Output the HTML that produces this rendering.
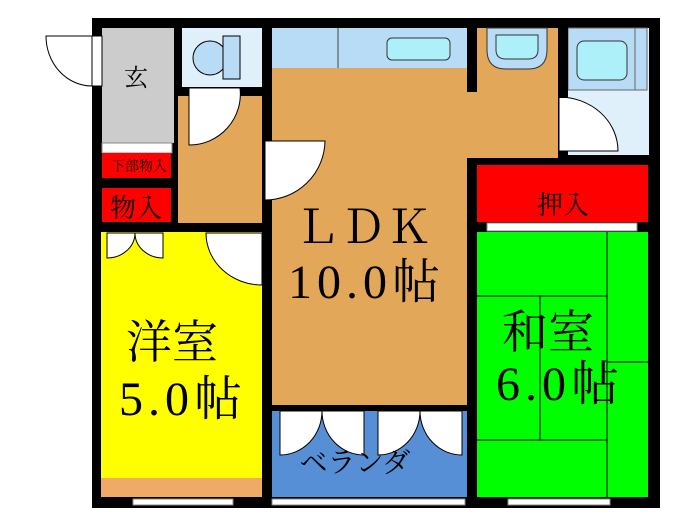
<!DOCTYPE html>
<html><head><meta charset="utf-8"><style>html,body{margin:0;padding:0;background:#fff}svg{display:block}text{font-family:"Liberation Serif","Noto Serif CJK JP","Noto Serif CJK SC",serif;fill:#000}</style></head><body>
<svg width="700" height="525" viewBox="0 0 700 525" xmlns="http://www.w3.org/2000/svg">
<rect x="92" y="18" width="568" height="490" fill="#000"/>
<rect x="102" y="28" width="72" height="115" fill="#cccccc"/>
<rect x="102" y="143" width="70" height="10" fill="#fff" stroke="#888" stroke-width="1"/>
<rect x="102" y="153" width="69" height="25" fill="#ff0000"/>
<rect x="102" y="188" width="69" height="34" fill="#ff0000"/>
<rect x="182" y="28" width="80" height="59" fill="#dff0fb"/>
<ellipse cx="210" cy="58" rx="17" ry="17" fill="#b8dcf5" stroke="#000"/>
<rect x="223" y="36" width="17" height="43" fill="#b8dcf5" stroke="#000"/>
<rect x="178" y="96" width="84" height="127" fill="#e3a75a"/>
<path d="M189 88 H240 A51 51 0 0 1 189 145 Z" fill="#fff" stroke="#000"/>
<rect x="272" y="28" width="286" height="130" fill="#e3a75a"/>
<rect x="272" y="28" width="195" height="377" fill="#e3a75a"/>
<rect x="272" y="28" width="195" height="40" fill="#b8dcf5"/>
<line x1="338" y1="28" x2="338" y2="68" stroke="#444"/>
<rect x="387" y="38" width="63" height="22" rx="5" fill="#aef0fa" stroke="#333"/>
<rect x="467" y="18" width="10" height="74" fill="#000"/>
<path d="M487 28 H547 V50 Q547 69 528 69 H506 Q487 69 487 50 Z" fill="#b8dcf5" stroke="#333"/>
<path d="M496 35 H538 V50 Q538 59 528 59 H506 Q496 59 496 50 Z" fill="#aef0fa" stroke="#333"/>
<path d="M265 141 H325 A60 60 0 0 1 265 200 Z" fill="#fff" stroke="#000"/>
<rect x="568" y="28" width="81" height="127" fill="#dff0fb"/>
<rect x="568" y="28" width="79" height="62" fill="#b8dcf5" stroke="#666"/>
<line x1="635" y1="28" x2="635" y2="90" stroke="#666"/>
<rect x="577" y="41" width="50" height="39" rx="7" fill="#aef0fa" stroke="#333"/>
<path d="M559 97 V151 H618 A59 54 0 0 0 559 97 Z" fill="#fff" stroke="#000"/>
<rect x="558" y="18" width="10" height="80" fill="#000"/>
<rect x="477" y="165" width="171" height="57" fill="#ff0000"/>
<rect x="487" y="223" width="150" height="8" fill="#fff" stroke="#888"/>
<rect x="101" y="232" width="161" height="265" fill="#ffff00"/>
<rect x="101" y="478" width="161" height="19" fill="#eeaa66"/>
<path d="M107 233 V258 A28 25 0 0 0 135 233 Z" fill="#fff" stroke="#000"/>
<path d="M163 233 V258 A28 25 0 0 1 135 233 Z" fill="#fff" stroke="#000"/>
<path d="M206 233 H262 V285 A56 52 0 0 1 206 233 Z" fill="#fff" stroke="#000"/>
<rect x="272" y="405" width="195" height="92" fill="#578fd6"/>
<rect x="272" y="405" width="195" height="6" fill="#000"/>
<path d="M280 411 V455 A42 44 0 0 0 322 411 Z" fill="#fff" stroke="#000"/>
<path d="M364 411 V455 A42 44 0 0 1 322 411 Z" fill="#fff" stroke="#000"/>
<path d="M378 411 V455 A42 44 0 0 0 420 411 Z" fill="#fff" stroke="#000"/>
<path d="M462 411 V455 A42 44 0 0 1 420 411 Z" fill="#fff" stroke="#000"/>
<rect x="477" y="232" width="171" height="265" fill="#00ff00"/>
<g stroke="#000" stroke-width="1" fill="none">
<line x1="607" y1="232" x2="607" y2="497"/>
<line x1="477" y1="296" x2="607" y2="296"/>
<line x1="540" y1="296" x2="540" y2="440"/>
<line x1="477" y1="440" x2="607" y2="440"/>
<line x1="607" y1="362" x2="648" y2="362"/>
</g>
<path d="M92 36 V86 A46 50 0 0 1 46 36 Z" fill="#fff" stroke="#000"/>
<rect x="92" y="36" width="10" height="50" fill="#fff" stroke="#000"/>
<rect x="133" y="499" width="100" height="6" fill="#fff" stroke="#888"/>
<rect x="272" y="499" width="193" height="6" fill="#fff" stroke="#888"/>
<rect x="508" y="499" width="102" height="6" fill="#fff" stroke="#888"/>
<text x="136" y="86" font-size="24" text-anchor="middle">玄</text>
<text x="139" y="171" font-size="14" text-anchor="middle">下部物入</text>
<text x="136" y="217" font-size="26" text-anchor="middle">物入</text>
<text x="563" y="214" font-size="26" text-anchor="middle">押入</text>
<text x="363" y="243" font-size="46" text-anchor="middle">ＬＤＫ</text>
<text x="288" y="298" font-size="48" letter-spacing="5">10.0帖</text>
<text x="119" y="415" font-size="48" letter-spacing="5">5.0帖</text>
<text x="172" y="358" font-size="46" text-anchor="middle">洋室</text>
<text x="548" y="348" font-size="46" text-anchor="middle">和室</text>
<text x="496" y="400" font-size="48" letter-spacing="5">6.0帖</text>
<text x="355" y="472" font-size="28" text-anchor="middle">ベランダ</text>
</svg>
</body></html>
